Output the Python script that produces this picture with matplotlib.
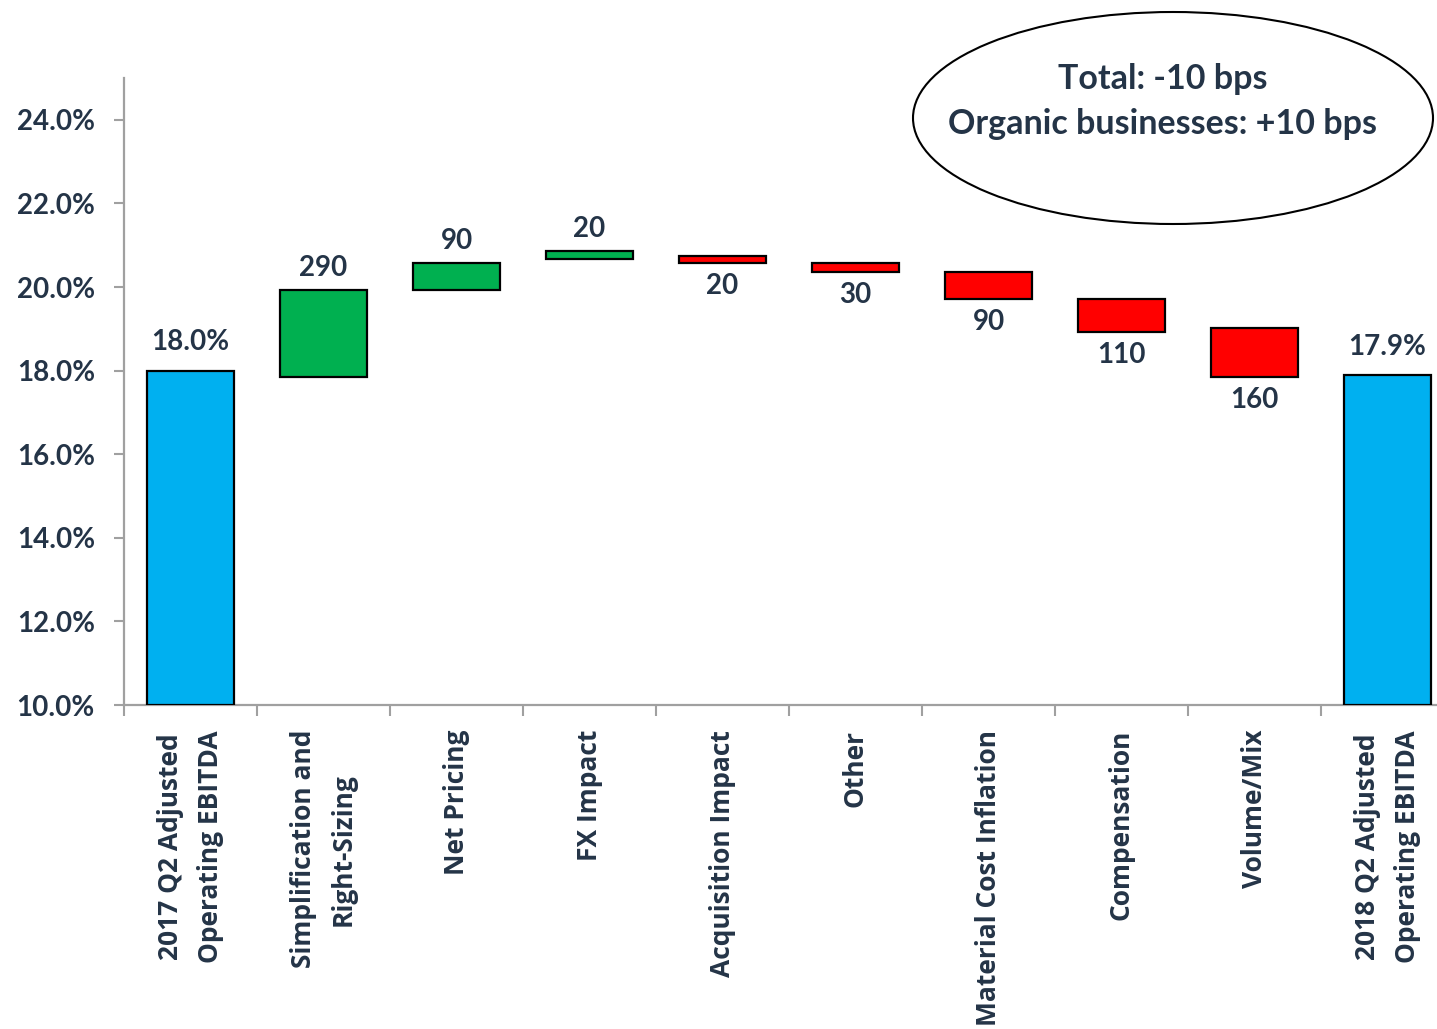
import matplotlib
matplotlib.use("Agg")
import matplotlib.pyplot as plt
from matplotlib.patches import Ellipse
from matplotlib.ticker import FixedLocator

categories = ["2017 Q2 Adjusted\nOperating EBITDA", "Simplification and\nRight-Sizing",
              "Net Pricing", "FX Impact", "Acquisition Impact", "Other",
              "Material Cost Inflation", "Compensation", "Volume/Mix",
              "2018 Q2 Adjusted\nOperating EBITDA"]
bar_low = [10.0, 17.85, 19.92, 20.68, 20.565, 20.35, 19.71, 18.92, 17.85, 10.0]
bar_high = [18.0, 19.92, 20.565, 20.85, 20.73, 20.565, 20.35, 19.71, 19.01, 17.89]
bar_kind = ["total", "up", "up", "up", "down", "down", "down", "down", "down", "total"]
value_labels = ["18.0%", "290", "90", "20", "20", "30", "90", "110", "160", "17.9%"]
y_ticks = [10, 12, 14, 16, 18, 20, 22, 24]
note_lines = ["Total: -10 bps", "Organic businesses: +10 bps"]

colors = {"total": "#00B0F0", "up": "#00B050", "down": "#FF0000"}
text_color = "#243447"
axis_color = "#A0A0A0"

fig = plt.figure(figsize=(14.37, 10.29), dpi=100)
ax = fig.add_axes([124/1437, 1-705/1029, 1-124/1437, (705-78)/1029])

x = list(range(len(categories)))
heights = [h - l for l, h in zip(bar_low, bar_high)]
ax.bar(x, heights, bottom=bar_low, width=0.65,
       color=[colors[k] for k in bar_kind], edgecolor="black", linewidth=1.6, zorder=3)

for xi, lo, hi, k, lab in zip(x, bar_low, bar_high, bar_kind, value_labels):
    if k == "down":
        ax.annotate(lab, (xi, lo), xytext=(0, -7), textcoords="offset points",
                    ha="center", va="top", fontsize=20, fontweight="bold",
                    color=text_color, family="Lato")
    else:
        off = 11 if k == "total" else 7
        ax.annotate(lab, (xi, hi), xytext=(0, off), textcoords="offset points",
                    ha="center", va="bottom", fontsize=20, fontweight="bold",
                    color=text_color, family="Lato")

ax.set_ylim(10, 25)
ax.set_xlim(-0.5, 9.5 - 17/133)
ax.set_yticks(y_ticks)
ax.set_yticklabels([f"{v:.1f}%" for v in y_ticks], fontsize=20, fontweight="bold",
                   color=text_color, family="Lato")
ax.set_xticks(x)
ax.set_xticklabels(categories, rotation=90, va="top", ha="center", multialignment="center",
                   fontsize=19, fontweight="bold", color=text_color, family=["Open Sans"],
                   linespacing=1.6)
ax.xaxis.set_minor_locator(FixedLocator([i + 0.5 for i in range(-1, 10)]))
ax.tick_params(axis="x", which="major", length=0, pad=18)
ax.tick_params(axis="x", which="minor", length=8, width=1.5, color=axis_color, direction="out")
ax.tick_params(axis="y", which="major", length=7, width=1.5, color=axis_color, pad=14)

for s in ["top", "right"]:
    ax.spines[s].set_visible(False)
for s in ["left", "bottom"]:
    ax.spines[s].set_color(axis_color)
    ax.spines[s].set_linewidth(1.6)

ell = Ellipse((1173/1437, 1-118/1029), 520/1437, 212/1029, transform=fig.transFigure,
              facecolor="white", edgecolor="black", linewidth=1.5, zorder=5)
fig.patches.append(ell)
fig.text(1163/1437, 1-79/1029, note_lines[0], ha="center", va="center", fontsize=24.5,
         fontweight="bold", color=text_color, family="Lato", zorder=6)
fig.text(1163/1437, 1-124/1029, note_lines[1], ha="center", va="center", fontsize=24.5,
         fontweight="bold", color=text_color, family="Lato", zorder=6)

fig.savefig("out.png", dpi=100, facecolor="white")
